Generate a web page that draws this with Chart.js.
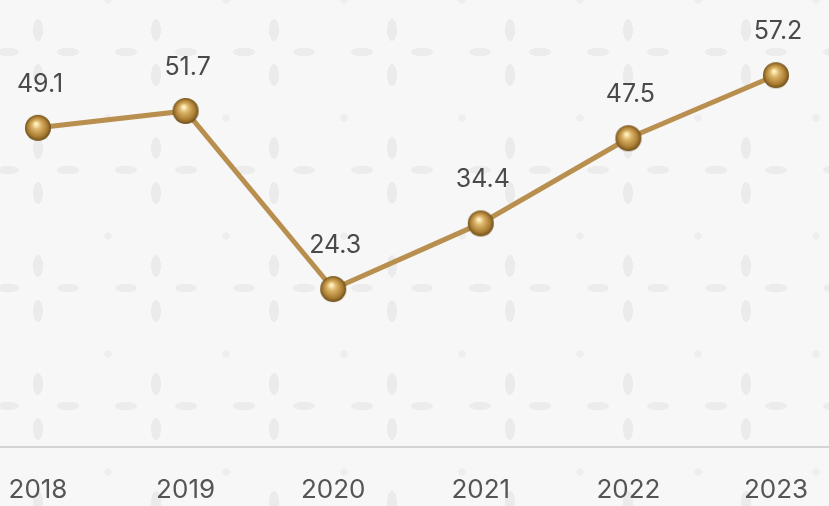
<!DOCTYPE html>
<html>
<head>
<meta charset="utf-8">
<script src="https://cdn.jsdelivr.net/npm/chart.js@4"></script>
<style>
    html, body { margin: 0; padding: 0; }
    body {
        width: 829px; height: 506px; overflow: hidden;
        background-color: #f7f7f7;
        background-image:
            radial-gradient(ellipse 8px 18px at 58px 40px, #ebebeb 60%, transparent 62%),
            radial-gradient(ellipse 8px 18px at 58px 85px, #ebebeb 60%, transparent 62%),
            radial-gradient(ellipse 18px 7px at 28px 62px, #ececec 60%, transparent 62%),
            radial-gradient(ellipse 18px 7px at 88px 62px, #ececec 60%, transparent 62%),
            radial-gradient(ellipse 6px 6px at 10px 10px, #eeeeee 60%, transparent 62%);
        background-size: 118px 118px;
        background-position: -20px -10px;
    }
    #wrap { position: relative; width: 829px; height: 506px; }
</style>
</head>
<body>
<div id="wrap"><canvas id="lineChart"></canvas></div>
<script>
// chart data
const years = ["2018", "2019", "2020", "2021", "2022", "2023"];
const values = [49.1, 51.7, 24.3, 34.4, 47.5, 57.2];

// gold sphere used as point style
function makeSphere(r) {
    const c = document.createElement("canvas");
    c.width = c.height = r * 2 + 2;
    const g = c.getContext("2d");
    const cx = r + 1, cy = r + 1;
    const grad = g.createRadialGradient(cx - 2, cy - 4, 1, cx, cy, r);
    grad.addColorStop(0, "#fff1c2");
    grad.addColorStop(0.3, "#dcb468");
    grad.addColorStop(0.75, "#a97c32");
    grad.addColorStop(1, "#6e4f1b");
    g.fillStyle = grad;
    g.beginPath();
    g.arc(cx, cy, r, 0, Math.PI * 2);
    g.fill();
    return c;
}

// baseline across the full width
const baseLine = {
    id: "baseLine",
    beforeDatasetsDraw(chart) {
        const ctx = chart.ctx;
        const y = chart.scales.y.getPixelForValue(0);
        ctx.save();
        ctx.strokeStyle = "#d4d4d4";
        ctx.lineWidth = 2;
        ctx.beginPath();
        ctx.moveTo(0, y);
        ctx.lineTo(chart.width, y);
        ctx.stroke();
        ctx.restore();
    }
};

// value labels above points
const valueLabels = {
    id: "valueLabels",
    afterDatasetsDraw(chart) {
        const ctx = chart.ctx;
        const meta = chart.getDatasetMeta(0);
        ctx.save();
        ctx.font = "25px Inter, 'Noto Sans', sans-serif";
        ctx.fillStyle = "#4a4a4a";
        ctx.textAlign = "center";
        ctx.textBaseline = "bottom";
        meta.data.forEach((pt, i) => {
            ctx.fillText(values[i].toFixed(1), pt.x + 2, pt.y - 31);
        });
        ctx.restore();
    }
};

const sphere = makeSphere(13);

new Chart(document.getElementById("lineChart"), {
    type: "line",
    data: {
        labels: years,
        datasets: [{
            data: values,
            borderColor: "#b98f4f",
            borderWidth: 5,
            tension: 0,
            pointStyle: sphere,
            pointRadius: 13,
            pointHoverRadius: 13,
            clip: false
        }]
    },
    options: {
        responsive: true,
        maintainAspectRatio: false,
        animation: false,
        layout: { padding: { left: 38, right: 53, top: 57, bottom: 0 } },
        plugins: {
            legend: { display: false },
            tooltip: { enabled: false }
        },
        scales: {
            x: {
                grid: { display: false, drawTicks: false },
                border: { display: false },
                afterFit: (scale) => {
                    scale.height = 59;
                    scale.paddingLeft = 0;
                    scale.paddingRight = 0;
                },
                ticks: {
                    padding: 28,
                    maxRotation: 0,
                    color: "#555555",
                    font: { family: "Inter, 'Noto Sans', sans-serif", size: 26 }
                }
            },
            y: {
                display: false,
                min: 0,
                max: 60
            }
        }
    },
    plugins: [baseLine, valueLabels]
});
</script>
</body>
</html>
